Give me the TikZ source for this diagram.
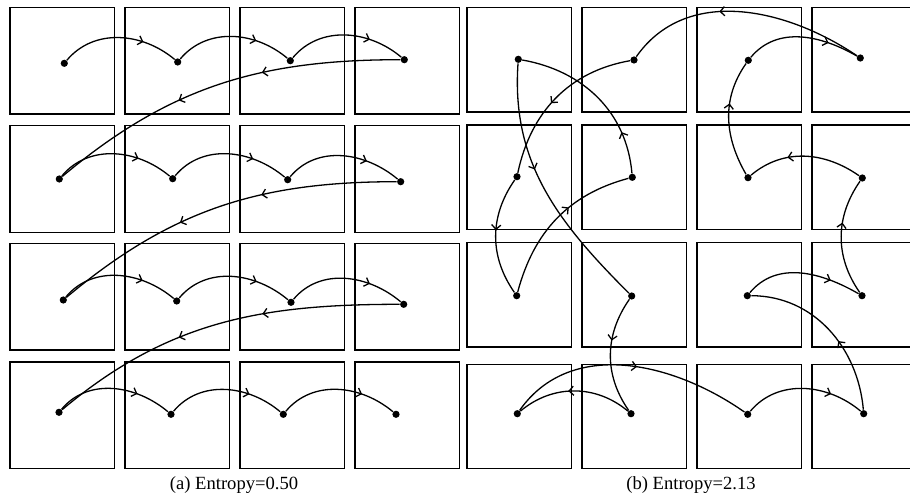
\documentclass[tikz,border=0pt]{standalone}
\usepackage{fontspec}
\setmainfont{Liberation Serif}
\usetikzlibrary{arrows.meta,decorations.markings}

\tikzset{
  cell/.style={draw, line width=0.75pt, minimum width=52.25pt, minimum height=53.4pt, inner sep=0pt},
  dot/.style={circle, fill=black, inner sep=0pt, minimum size=3.6pt},
  link/.style={line width=0.65pt},
  mid/.style={postaction={decorate, decoration={markings, mark=at position #1 with {\arrow{>}}}}},
  mid/.default=0.7,
  >={Straight Barb[length=2.2pt,width=4.6pt]},
  caption/.style={font=\fontsize{9.3}{11}\selectfont, inner sep=0pt}
}

\begin{document}
\begin{tikzpicture}[x=0.5pt,y=0.5pt]
\useasboundingbox (0,0) rectangle (910,-497);

% squares of panel (a) and (b)
\foreach \c/\x in {1/62.3,2/177.3,3/292.3,4/407.3}
  \foreach \r/\y in {1/60.8,2/179.0,3/296.7,4/415.2}
    \node[cell] (sa\r\c) at (\x,-\y) {};
\foreach \c/\x in {1/519,2/634,3/749,4/864}
  \foreach \r/\y in {1/59.7,2/177.3,3/294.7,4/416.5}
    \node[cell, minimum height=52.2pt] (sb\r\c) at (\x,-\y) {};

% dots
\foreach \n/\x/\y in {a11/64.3/63.3, a12/177.7/62, a13/290.3/60.7, a14/404.3/59.7,
    a21/59.3/179, a22/172.7/178.7, a23/287.7/179.7, a24/400.7/181.7,
    a31/63.3/300, a32/176.7/301, a33/291/302.3, a34/403.7/304.3,
    a41/59/412.3, a42/171/414.3, a43/283.3/414.3, a44/396/414.3,
    b11/518.3/59.3, b12/634/60, b13/748.3/60.3, b14/860.3/58,
    b21/517/176.7, b22/632.3/177.3, b23/748/177.7, b24/862.3/178,
    b31/516.7/295.7, b32/631.7/296, b33/747.3/295.7, b34/862/295.7,
    b41/517.3/413.7, b42/631/413.7, b43/747.7/414.3, b44/863.7/413.7}
  \node[dot] (\n) at (\x,-\y) {};

% (a) row by row
\draw[link, mid] (a11) to[out=50,in=140] (a12);
\draw[link, mid] (a12) to[out=50,in=140] (a13);
\draw[link, mid] (a13) to[out=50,in=140] (a14);
\draw[link, mid=0.38, mid=0.62] (a14) to[out=180,in=40] (a21);
\draw[link, mid] (a21) to[out=50,in=140] (a22);
\draw[link, mid] (a22) to[out=50,in=140] (a23);
\draw[link, mid] (a23) to[out=50,in=140] (a24);
\draw[link, mid=0.38, mid=0.62] (a24) to[out=180,in=40] (a31);
\draw[link, mid] (a31) to[out=50,in=140] (a32);
\draw[link, mid] (a32) to[out=50,in=140] (a33);
\draw[link, mid] (a33) to[out=50,in=140] (a34);
\draw[link, mid=0.38, mid=0.62] (a34) to[out=180,in=40] (a41);
\draw[link, mid] (a41) to[out=50,in=140] (a42);
\draw[link, mid] (a42) to[out=50,in=140] (a43);
\draw[link, mid] (a43) to[out=50,in=140] (a44);

% (b) one closed tour
\draw[link, mid=0.73] (b13) to[out=50,in=150] (b14);
\draw[link, mid=0.6] (b14) to[out=146,in=55] (b12);
\draw[link, mid=0.54] (b12) to[out=190,in=78] (b21);
\draw[link, mid=0.45] (b21) to[out=235,in=125] (b31);
\draw[link, mid=0.6] (b31) to[out=75,in=195] (b22);
\draw[link, mid=0.25] (b22) to[out=95,in=-10] (b11);
\draw[link, mid=0.41] (b11) to[out=266,in=135] (b32);
\draw[link, mid=0.38] (b32) to[out=235,in=125] (b42);
\draw[link, mid=0.55] (b42) to[out=140,in=40] (b41);
\draw[link, mid=0.53] (b41) to[out=55,in=145] (b43);
\draw[link, mid=0.72] (b43) to[out=50,in=140] (b44);
\draw[link, mid=0.42] (b44) to[out=95,in=0] (b33);
\draw[link, mid=0.74] (b33) to[out=50,in=150] (b34);
\draw[link, mid=0.62] (b34) to[out=125,in=235] (b24);
\draw[link, mid=0.65] (b24) to[out=145,in=40] (b23);
\draw[link, mid=0.63] (b23) to[out=120,in=235] (b13);

% captions
\node[caption] (capa) at (234,-485) {(a) Entropy=0.50};
\node[caption] (capb) at (691,-485) {(b) Entropy=2.13};
\end{tikzpicture}
\end{document}
